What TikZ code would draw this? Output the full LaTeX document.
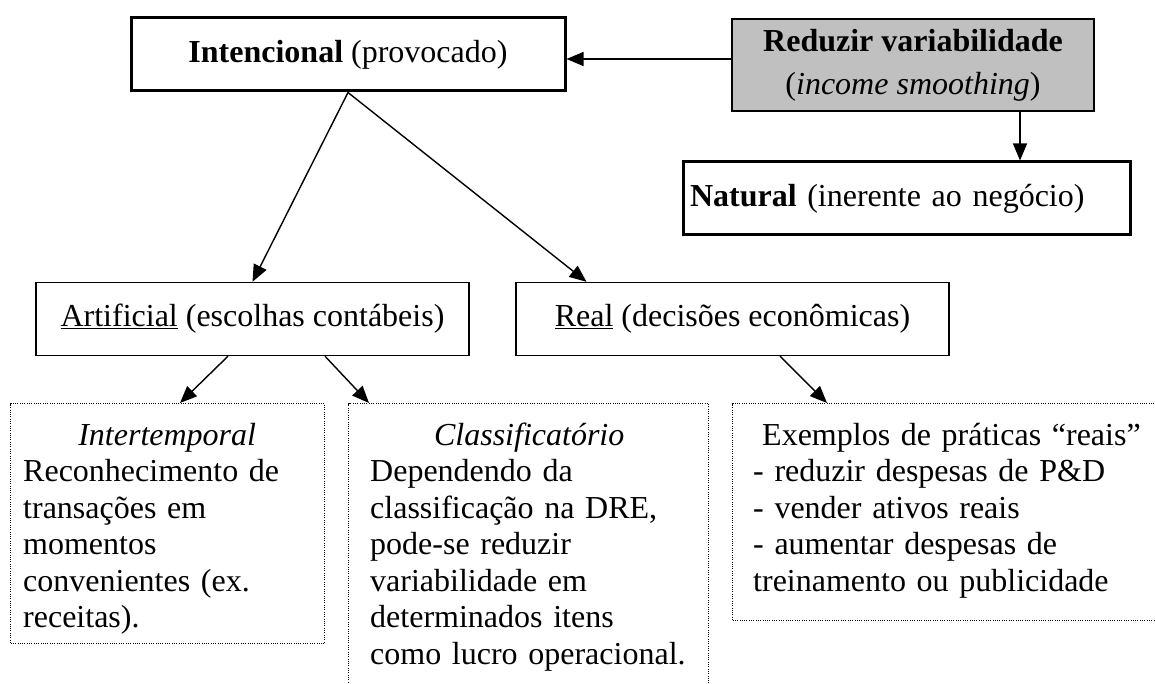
\documentclass[tikz,border=0pt]{standalone}
\usepackage{fontspec}
\setmainfont{Liberation Serif}
\usetikzlibrary{arrows.meta}

\definecolor{cinza}{HTML}{C0C0C0}

\begin{document}
\begin{tikzpicture}[x=1pt,y=-1pt,
	font=\fontsize{32}{36.5}\selectfont,
	caixa/.style={draw,line width=1.4pt,inner sep=0pt,align=center},
	grossa/.style={caixa,line width=3pt},
	pontos/.style={draw,line width=1.2pt,dash pattern=on 1pt off 1.3pt,inner sep=0pt,anchor=north west},
	texto/.style={inner sep=0pt,anchor=north west},
	seta/.style={line width=1.4pt,-{Triangle[length=17pt,width=14pt]}}]

\useasboundingbox (0,0) rectangle (1155,684);
\clip (0,0) rectangle (1155,684);

% caixas de cima
\node[grossa,minimum width=434pt,minimum height=73pt] (int) at (348,54.5) {\textbf{Intencional} (provocado)};
\node[caixa,fill=cinza,line width=1.6pt,minimum width=362pt,minimum height=92pt,font=\fontsize{32}{43}\selectfont] (red) at (913,65) {\textbf{Reduzir variabilidade}\\(\textit{income smoothing})};
\node[grossa,minimum width=447pt,minimum height=73pt,inner xsep=7pt,text width=433pt,align=left] (nat) at (906.5,198.5) {\textbf{Natural} (inerente ao negócio)};

\node[caixa,minimum width=433pt,minimum height=73pt] (art) at (252.5,319) {\underline{Artificial} (escolhas contábeis)};
\node[caixa,minimum width=433pt,minimum height=73pt] (real) at (732.5,319) {\underline{Real} (decisões econômicas)};

% caixas pontilhadas
\node[pontos,minimum width=314pt,minimum height=240pt] (inter) at (10,403) {};
\node[pontos,minimum width=360pt,minimum height=320pt] (clas) at (348,403) {};
\node[pontos,minimum width=460pt,minimum height=217pt] (exem) at (732,403) {};

\node[texto,text width=288pt] (intertxt) at (23,419.45) {{\centering\strut\textit{Intertemporal}\par}\raggedright
	Reconhecimento de\\transações em\\momentos\\convenientes (ex.\\receitas).};
\node[texto,text width=318pt] (clastxt) at (370,419.45) {{\centering\strut\textit{Classificatório}\par}\raggedright
	Dependendo da\\classificação na DRE,\\pode-se reduzir\\variabilidade em\\determinados itens\\como lucro operacional.};
\node[texto,text width=400pt] (exemtxt) at (753,419.45) {\raggedright\strut\hspace*{9pt}Exemplos de práticas “reais”\\
	- reduzir despesas de P\&D\\- vender ativos reais\\- aumentar despesas de\\treinamento ou publicidade};

% setas
\coordinate (ri) at (0,59);
\coordinate (rn) at (1020,0);
\draw[seta] (red.west |- ri) -- (int.east |- ri);
\draw[seta] (red.south -| rn) -- (nat.north -| rn);
\draw[seta] (int.south) -- (art.north);
\draw[seta] (int.south) -- ([xshift=-146pt]real.north);
\draw[seta] ([xshift=-24.5pt]art.south) -- ([xshift=170pt]inter.north west);
\draw[seta] ([xshift=72.5pt]art.south) -- ([xshift=21pt]clas.north west);
\draw[seta] ([xshift=47.5pt]real.south) -- ([xshift=95pt]exem.north west);

\end{tikzpicture}
\end{document}
